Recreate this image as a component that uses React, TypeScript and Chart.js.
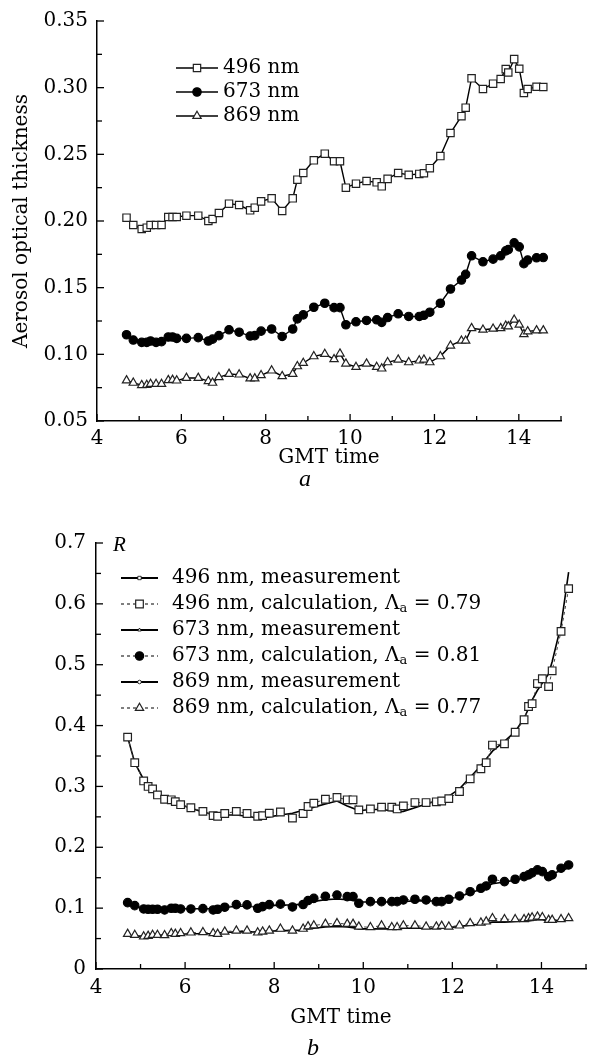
import React, { useEffect, useRef } from 'react';
import { Chart, registerables } from 'chart.js';

Chart.register(...registerables);

const FONT = '"DejaVu Serif", serif';

// ---------- Panel a: aerosol optical thickness ----------
const timeA = [4.70, 4.86, 5.06, 5.18, 5.27, 5.40, 5.53, 5.69, 5.79, 5.89, 6.12, 6.40, 6.64, 6.74, 6.89, 7.13, 7.37, 7.63, 7.74, 7.89, 8.14, 8.39, 8.64, 8.75, 8.89, 9.14, 9.40, 9.62, 9.76, 9.90, 10.14, 10.39, 10.63, 10.75, 10.89, 11.14, 11.39, 11.64, 11.75, 11.89, 12.14, 12.38, 12.64, 12.74, 12.88, 13.15, 13.39, 13.57, 13.69, 13.75, 13.89, 14.01, 14.12, 14.21, 14.42, 14.58];
const aot496 = [0.2025, 0.197, 0.194, 0.195, 0.197, 0.197, 0.197, 0.203, 0.203, 0.203, 0.204, 0.204, 0.200, 0.2015, 0.206, 0.213, 0.212, 0.208, 0.210, 0.2147, 0.217, 0.2075, 0.217, 0.231, 0.236, 0.2455, 0.2505, 0.2448, 0.2448, 0.225, 0.228, 0.230, 0.229, 0.226, 0.2316, 0.236, 0.2346, 0.2353, 0.2358, 0.2396, 0.2487, 0.266, 0.2786, 0.285, 0.307, 0.299, 0.303, 0.3065, 0.3139, 0.3114, 0.3214, 0.3142, 0.296, 0.299, 0.3007, 0.3005];
const aot673 = [0.1147, 0.1107, 0.109, 0.109, 0.110, 0.109, 0.1095, 0.113, 0.113, 0.112, 0.112, 0.1125, 0.110, 0.1114, 0.114, 0.1184, 0.1166, 0.1137, 0.114, 0.1174, 0.119, 0.1134, 0.119, 0.1266, 0.1296, 0.1353, 0.1383, 0.135, 0.135, 0.1222, 0.1244, 0.1254, 0.1259, 0.124, 0.1276, 0.1304, 0.1284, 0.1284, 0.1293, 0.1316, 0.1383, 0.149, 0.1557, 0.160, 0.1739, 0.1694, 0.1714, 0.1739, 0.1776, 0.1785, 0.1836, 0.1806, 0.168, 0.1707, 0.1724, 0.1726];
const aot869 = [0.0804, 0.0786, 0.0769, 0.077, 0.0777, 0.0777, 0.0777, 0.0806, 0.0808, 0.0803, 0.0823, 0.0823, 0.0799, 0.0786, 0.0828, 0.0853, 0.0848, 0.0819, 0.0819, 0.0843, 0.0878, 0.0836, 0.0853, 0.091, 0.0935, 0.0985, 0.1002, 0.0963, 0.1005, 0.093, 0.0905, 0.093, 0.0905, 0.0893, 0.094, 0.096, 0.094, 0.0953, 0.096, 0.094, 0.0985, 0.1065, 0.1102, 0.1102, 0.1196, 0.1184, 0.1192, 0.1196, 0.1214, 0.1209, 0.1259, 0.1222, 0.1151, 0.1172, 0.1179, 0.1179];
const yLabelsA = ['0.05', '0.10', '0.15', '0.20', '0.25', '0.30', '0.35'];

// ---------- Panel b: R ----------
const timeB = [4.71, 4.87, 5.07, 5.17, 5.27, 5.38, 5.54, 5.69, 5.78, 5.90, 6.13, 6.40, 6.63, 6.73, 6.89, 7.15, 7.39, 7.63, 7.74, 7.89, 8.14, 8.41, 8.65, 8.76, 8.89, 9.15, 9.41, 9.64, 9.77, 9.90, 10.16, 10.41, 10.64, 10.76, 10.90, 11.16, 11.41, 11.64, 11.76, 11.92, 12.16, 12.40, 12.64, 12.76, 12.90, 13.17, 13.41, 13.61, 13.71, 13.79, 13.91, 14.02, 14.16, 14.24, 14.44, 14.61];
const r496Meas = [0.381, 0.339, 0.311, 0.302, 0.295, 0.288, 0.281, 0.276, 0.273, 0.270, 0.264, 0.258, 0.254, 0.253, 0.253, 0.253, 0.251, 0.248, 0.248, 0.250, 0.253, 0.256, 0.261, 0.263, 0.266, 0.271, 0.276, 0.268, 0.264, 0.260, 0.262, 0.262, 0.260, 0.258, 0.259, 0.265, 0.271, 0.276, 0.279, 0.284, 0.296, 0.315, 0.334, 0.345, 0.358, 0.374, 0.390, 0.412, 0.428, 0.442, 0.458, 0.470, 0.485, 0.505, 0.565, 0.652];
const r496Calc = [0.381, 0.339, 0.309, 0.300, 0.296, 0.286, 0.279, 0.278, 0.275, 0.270, 0.265, 0.259, 0.252, 0.251, 0.2555, 0.259, 0.2555, 0.251, 0.252, 0.256, 0.258, 0.248, 0.2555, 0.267, 0.2725, 0.279, 0.282, 0.278, 0.278, 0.2615, 0.263, 0.266, 0.266, 0.263, 0.268, 0.2735, 0.2735, 0.2747, 0.276, 0.280, 0.2916, 0.3125, 0.329, 0.339, 0.368, 0.370, 0.389, 0.4095, 0.4314, 0.436, 0.469, 0.477, 0.464, 0.490, 0.5548, 0.625];
const r673Meas = [0.106, 0.103, 0.100, 0.099, 0.099, 0.099, 0.099, 0.099, 0.099, 0.099, 0.099, 0.099, 0.099, 0.100, 0.101, 0.103, 0.103, 0.102, 0.103, 0.104, 0.105, 0.105, 0.107, 0.109, 0.111, 0.114, 0.115, 0.114, 0.113, 0.110, 0.110, 0.110, 0.110, 0.110, 0.111, 0.112, 0.112, 0.112, 0.113, 0.115, 0.119, 0.125, 0.131, 0.135, 0.140, 0.143, 0.146, 0.150, 0.152, 0.155, 0.158, 0.158, 0.155, 0.156, 0.162, 0.166];
const r673Calc = [0.109, 0.1041, 0.0987, 0.0982, 0.0982, 0.0982, 0.097, 0.0998, 0.0998, 0.0987, 0.0987, 0.0992, 0.097, 0.0982, 0.1015, 0.1058, 0.1053, 0.0998, 0.1025, 0.1058, 0.1066, 0.102, 0.106, 0.1125, 0.116, 0.1195, 0.1215, 0.119, 0.119, 0.108, 0.1107, 0.1107, 0.1107, 0.1107, 0.1135, 0.1146, 0.1135, 0.1107, 0.1107, 0.1146, 0.120, 0.127, 0.1327, 0.1365, 0.1475, 0.1436, 0.1475, 0.1518, 0.1546, 0.158, 0.1628, 0.160, 0.1518, 0.1546, 0.1656, 0.171];
const r869Meas = [0.055, 0.054, 0.054, 0.054, 0.055, 0.055, 0.056, 0.057, 0.057, 0.057, 0.058, 0.058, 0.058, 0.059, 0.060, 0.061, 0.061, 0.061, 0.062, 0.062, 0.063, 0.063, 0.064, 0.066, 0.067, 0.069, 0.070, 0.069, 0.068, 0.066, 0.066, 0.066, 0.066, 0.066, 0.067, 0.067, 0.067, 0.067, 0.068, 0.068, 0.070, 0.072, 0.074, 0.075, 0.077, 0.077, 0.078, 0.079, 0.079, 0.080, 0.081, 0.081, 0.079, 0.079, 0.080, 0.080];
const r869Calc = [0.0576, 0.0559, 0.0532, 0.0543, 0.0559, 0.0559, 0.0554, 0.0587, 0.0576, 0.0587, 0.0598, 0.0603, 0.0587, 0.0576, 0.0614, 0.063, 0.063, 0.0598, 0.0614, 0.063, 0.066, 0.063, 0.066, 0.070, 0.0715, 0.074, 0.0751, 0.074, 0.074, 0.0696, 0.0685, 0.0713, 0.0685, 0.0685, 0.0713, 0.0713, 0.0696, 0.0696, 0.0707, 0.0696, 0.0713, 0.0751, 0.0762, 0.0779, 0.0833, 0.0817, 0.0817, 0.0817, 0.0833, 0.0845, 0.086, 0.085, 0.0806, 0.0806, 0.0817, 0.0833];
const yLabelsB = ['0', '0.1', '0.2', '0.3', '0.4', '0.5', '0.6', '0.7'];

const xLabels = ['4', '6', '8', '10', '12', '14'];

const pts = (xs: number[], ys: number[]) => xs.map((x, i) => ({ x, y: ys[i] }));

function drawMarker(ctx: CanvasRenderingContext2D, style: string, x: number, y: number, r: number, fill: string, stroke: string, lw: number) {
  ctx.save();
  ctx.setLineDash([]);
  ctx.fillStyle = fill;
  ctx.strokeStyle = stroke;
  ctx.lineWidth = lw;
  ctx.beginPath();
  if (style === 'rect') {
    const s = Math.SQRT1_2 * r;
    ctx.rect(x - s, y - s, 2 * s, 2 * s);
  } else if (style === 'triangle') {
    let a = 0;
    ctx.moveTo(x + Math.sin(a) * r, y - Math.cos(a) * r);
    a += (2 * Math.PI) / 3;
    ctx.lineTo(x + Math.sin(a) * r, y - Math.cos(a) * r);
    a += (2 * Math.PI) / 3;
    ctx.lineTo(x + Math.sin(a) * r, y - Math.cos(a) * r);
    ctx.closePath();
  } else {
    ctx.arc(x, y, r, 0, Math.PI * 2);
  }
  ctx.fill();
  ctx.stroke();
  ctx.restore();
}

function drawLabel(ctx: CanvasRenderingContext2D, text: string, x: number, y: number) {
  const parts = text.split('ₐ');
  ctx.fillStyle = '#000';
  ctx.textAlign = 'left';
  ctx.textBaseline = 'middle';
  let cx = x;
  parts.forEach((p, i) => {
    ctx.font = `20px ${FONT}`;
    ctx.fillText(p, cx, y);
    cx += ctx.measureText(p).width;
    if (i < parts.length - 1) {
      ctx.font = `13px ${FONT}`;
      ctx.fillText('a', cx, y + 5);
      cx += ctx.measureText('a').width;
    }
  });
}

const customLegend = {
  id: 'customLegend',
  afterDraw(chart: any, _args: any, opts: any) {
    const { ctx } = chart;
    const { x0, x1, textX, rows } = opts;
    ctx.save();
    chart.data.datasets.forEach((ds: any, i: number) => {
      const y = rows[i];
      if (y === undefined) return;
      const xm = (x0 + x1) / 2;
      ctx.strokeStyle = '#000';
      ctx.lineWidth = ds.legendLineWidth ?? ds.borderWidth;
      ctx.setLineDash(ds.borderDash || []);
      ctx.beginPath();
      ctx.moveTo(x0, y);
      ctx.lineTo(x1, y);
      ctx.stroke();
      ctx.setLineDash([]);
      const m = ds.legendMarker || { style: ds.pointStyle, r: ds.pointRadius };
      drawMarker(ctx, m.style, xm, y, m.r, ds.pointBackgroundColor || '#fff', ds.pointBorderColor || '#000', ds.pointBorderWidth || 1.2);
      drawLabel(ctx, ds.label, textX, y);
    });
    ctx.restore();
  },
};

const inwardTicks = {
  id: 'inwardTicks',
  afterDraw(chart: any) {
    const { ctx, chartArea } = chart;
    const xs = chart.scales.x;
    const ys = chart.scales.y;
    ctx.save();
    ctx.strokeStyle = '#000';
    ctx.lineWidth = 1.3;
    xs.ticks.forEach((_t: any, i: number) => {
      const px = xs.getPixelForTick(i);
      const len = i % 2 === 0 ? 7 : 5;
      ctx.beginPath();
      ctx.moveTo(px, chartArea.bottom);
      ctx.lineTo(px, chartArea.bottom - len);
      ctx.stroke();
    });
    ys.ticks.forEach((_t: any, i: number) => {
      const py = ys.getPixelForTick(i);
      const len = i % 2 === 0 ? 7 : 5;
      ctx.beginPath();
      ctx.moveTo(chartArea.left, py);
      ctx.lineTo(chartArea.left + len, py);
      ctx.stroke();
    });
    ctx.restore();
  },
};

const tickFont = { family: FONT, size: 20 };

function xScale(height: number, titleBottom: number, labelPad: number) {
  return {
    type: 'linear',
    min: 4,
    max: 15,
    afterFit: (s: any) => { s.height = height; },
    grid: { display: false, drawTicks: false },
    border: { display: true, color: '#000', width: 1.5 },
    ticks: {
      stepSize: 1,
      autoSkip: false,
      maxRotation: 0,
      padding: labelPad,
      color: '#000',
      font: tickFont,
      callback: (_v: any, i: number) => (i % 2 === 0 ? xLabels[i / 2] ?? '' : ''),
    },
    title: {
      display: true,
      text: 'GMT time',
      color: '#000',
      font: tickFont,
      padding: { top: 0, bottom: titleBottom },
    },
  };
}

function ChartA() {
  const ref = useRef<HTMLCanvasElement>(null);
  useEffect(() => {
    const base = { borderColor: '#000', borderWidth: 1.4, pointBorderColor: '#222', pointBorderWidth: 1.2, tension: 0, fill: false };
    const chart = new Chart(ref.current as HTMLCanvasElement, {
      type: 'line',
      data: {
        datasets: [
          { ...base, label: '496 nm', data: pts(timeA, aot496), pointStyle: 'rect', pointRadius: 5.2, pointBackgroundColor: '#fff' },
          { ...base, label: '673 nm', data: pts(timeA, aot673), pointStyle: 'circle', pointRadius: 4.2, pointBackgroundColor: '#000', pointBorderColor: '#000' },
          { ...base, label: '869 nm', data: pts(timeA, aot869), pointStyle: 'triangle', pointRadius: 4.8, pointBackgroundColor: '#fff' },
        ] as any,
      },
      options: {
        responsive: false,
        animation: false,
        events: [],
        layout: { autoPadding: false, padding: { left: 0, right: 32, top: 20, bottom: 0 } },
        plugins: {
          legend: { display: false },
          tooltip: { enabled: false },
          customLegend: { x0: 176, x1: 218, textX: 223, rows: [68, 92, 116] },
        } as any,
        scales: {
          x: xScale(79, 30, 6) as any,
          y: {
            type: 'linear',
            min: 0.05,
            max: 0.35,
            afterFit: (s: any) => { s.width = 97; },
            grid: { display: false, drawTicks: false },
            border: { display: true, color: '#000', width: 1.5 },
            ticks: {
              stepSize: 0.025,
              autoSkip: false,
              padding: 9,
              color: '#000',
              font: tickFont,
              callback: (_v: any, i: number) => (i % 2 === 0 ? yLabelsA[i / 2] ?? '' : ''),
            },
            title: {
              display: true,
              text: 'Aerosol optical thickness',
              color: '#000',
              font: tickFont,
              padding: { top: 10, bottom: 0 },
            },
          },
        },
      },
      plugins: [inwardTicks, customLegend],
    });
    return () => chart.destroy();
  }, []);
  return <canvas ref={ref} width={593} height={500} style={{ position: 'absolute', left: 0, top: 0, width: 593, height: 500 }} />;
}

function ChartB() {
  const ref = useRef<HTMLCanvasElement>(null);
  useEffect(() => {
    const meas = { borderColor: '#000', borderWidth: 1.6, pointRadius: 0, tension: 0, fill: false, order: 1, legendLineWidth: 2 };
    const calc = { borderColor: '#444', borderWidth: 1, borderDash: [3, 3], pointBorderColor: '#222', pointBorderWidth: 1.2, tension: 0, fill: false, order: 0 };
    const chart = new Chart(ref.current as HTMLCanvasElement, {
      type: 'line',
      data: {
        datasets: [
          { ...meas, label: '496 nm, measurement', data: pts(timeB, r496Meas), pointStyle: 'rect', legendMarker: { style: 'rect', r: 2.4 }, pointBackgroundColor: '#fff', pointBorderColor: '#000', pointBorderWidth: 0.8 },
          { ...calc, label: '496 nm, calculation, Λₐ = 0.79', data: pts(timeB, r496Calc), pointStyle: 'rect', pointRadius: 5.4, pointBackgroundColor: '#fff' },
          { ...meas, label: '673 nm, measurement', data: pts(timeB, r673Meas), pointStyle: 'triangle', legendMarker: { style: 'triangle', r: 2 }, pointBackgroundColor: '#fff', pointBorderColor: '#000', pointBorderWidth: 0.8 },
          { ...calc, label: '673 nm, calculation, Λₐ = 0.81', data: pts(timeB, r673Calc), pointStyle: 'circle', pointRadius: 4.2, pointBackgroundColor: '#000', pointBorderColor: '#000' },
          { ...meas, label: '869 nm, measurement', data: pts(timeB, r869Meas), pointStyle: 'circle', legendMarker: { style: 'circle', r: 1.8 }, pointBackgroundColor: '#fff', pointBorderColor: '#000', pointBorderWidth: 0.8 },
          { ...calc, label: '869 nm, calculation, Λₐ = 0.77', data: pts(timeB, r869Calc), pointStyle: 'triangle', pointRadius: 4.8, pointBackgroundColor: '#fff' },
        ] as any,
      },
      options: {
        responsive: false,
        animation: false,
        events: [],
        layout: { autoPadding: false, padding: { left: 0, right: 2, top: 23, bottom: 0 } },
        plugins: {
          legend: { display: false },
          tooltip: { enabled: false },
          customLegend: { x0: 121, x1: 158, textX: 172, rows: [58, 84, 110, 136, 162, 188] },
        } as any,
        scales: {
          x: xScale(95, 34, 7) as any,
          y: {
            type: 'linear',
            min: 0,
            max: 0.7,
            afterFit: (s: any) => { s.width = 96; },
            grid: { display: false, drawTicks: false },
            border: { display: true, color: '#000', width: 1.5 },
            ticks: {
              stepSize: 0.05,
              autoSkip: false,
              padding: 10,
              color: '#000',
              font: tickFont,
              callback: (_v: any, i: number) => (i % 2 === 0 ? yLabelsB[i / 2] ?? '' : ''),
            },
          },
        },
      },
      plugins: [inwardTicks, customLegend],
    });
    return () => chart.destroy();
  }, []);
  return <canvas ref={ref} width={593} height={544} style={{ position: 'absolute', left: 0, top: 520, width: 593, height: 544 }} />;
}

const italic: React.CSSProperties = { position: 'absolute', fontFamily: '"Liberation Serif", serif', fontStyle: 'italic', lineHeight: 1, color: '#000' };

export default function App() {
  return (
    <div style={{ position: 'absolute', left: 0, top: 0, width: 593, height: 1064, background: '#fff', overflow: 'hidden' }}>
      <ChartA />
      <ChartB />
      <div style={{ ...italic, left: 299, top: 466, fontSize: 24 }}>a</div>
      <div style={{ ...italic, left: 307, top: 1035, fontSize: 24 }}>b</div>
      <div style={{ ...italic, left: 113, top: 534, fontSize: 21 }}>R</div>
    </div>
  );
}
